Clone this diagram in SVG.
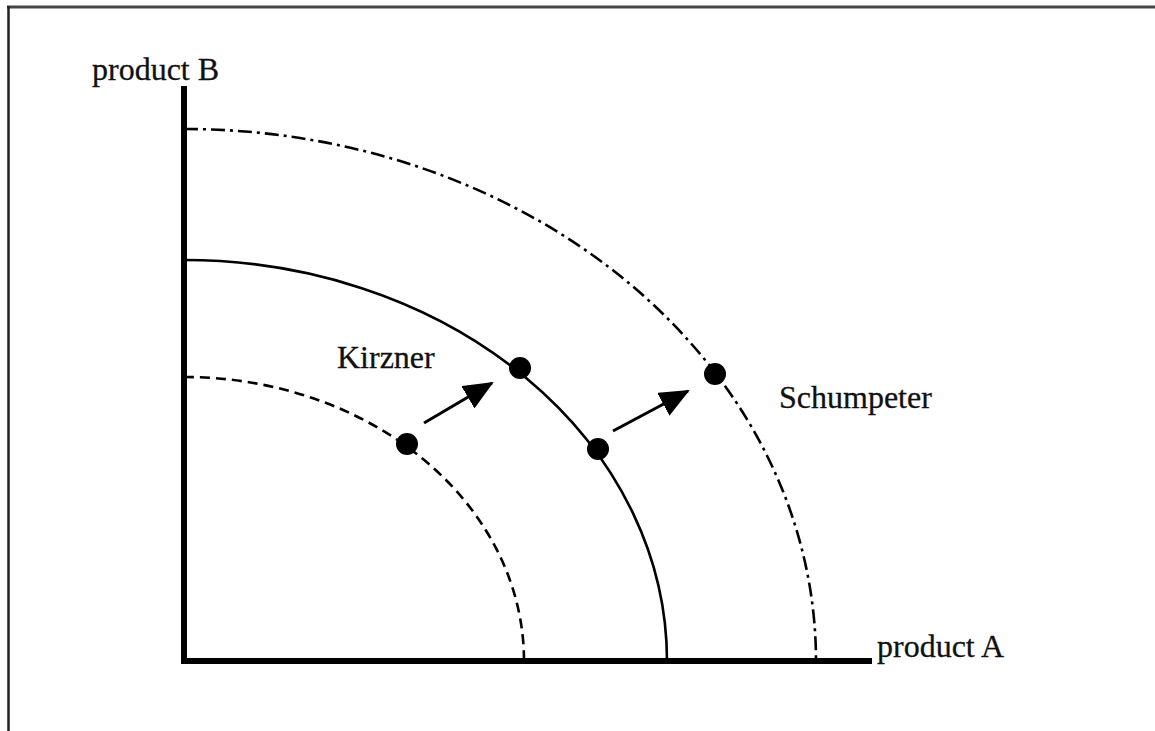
<svg xmlns="http://www.w3.org/2000/svg" width="1155" height="731" viewBox="0 0 1155 731">
<style>
.t{font-family:"Liberation Serif","Times New Roman",serif;font-size:32px;fill:#111;stroke:#111;stroke-width:0.3}
.c{fill:none;stroke:#000;stroke-width:2.6}
.dot{fill:#000}
.ar{stroke:#000;stroke-width:3;fill:none}
</style>
<defs>
<marker id="ah2" viewBox="0 0 30 26" refX="28" refY="13" markerWidth="30" markerHeight="26" markerUnits="userSpaceOnUse" orient="auto">
<path d="M0,0 L30,13 L0,26 z" fill="#000"/>
</marker>
</defs>
<rect width="1155" height="731" fill="#fff"/>
<g id="frame">
<line x1="7" y1="7" x2="1155" y2="7" stroke="#444" stroke-width="3"/>
<line x1="8.5" y1="6" x2="8.5" y2="731" stroke="#222" stroke-width="2.5"/>
</g>
<g id="axes">
<line x1="184" y1="86" x2="184" y2="664" stroke="#000" stroke-width="6"/>
<line x1="181" y1="661" x2="872" y2="661" stroke="#000" stroke-width="6"/>
</g>
<g id="curves">
<path id="curve-dashed" class="c" d="M184,377 A340,284 0 0 1 524,661" stroke-dasharray="10,6"/>
<path id="curve-solid" class="c" d="M184,260 A483,401 0 0 1 667,661"/>
<path id="curve-dashdot" class="c" d="M184,129 A632,532 0 0 1 816,661" stroke-dasharray="14,5,3,5"/>
</g>
<g id="points">
<circle class="dot" cx="407" cy="444" r="11"/>
<circle class="dot" cx="520" cy="368" r="11"/>
<circle class="dot" cx="598" cy="449" r="11"/>
<circle class="dot" cx="715" cy="374" r="11"/>
</g>
<g id="connectors">
<line class="ar" x1="424" y1="423" x2="492" y2="383" marker-end="url(#ah2)"/>
<line class="ar" x1="613" y1="431" x2="688" y2="391" marker-end="url(#ah2)"/>
</g>
<g id="labels">
<text class="t" x="92" y="80">product B</text>
<text class="t" x="877" y="657">product A</text>
<text class="t" x="337" y="368">Kirzner</text>
<text class="t" x="779" y="408">Schumpeter</text>
</g>
</svg>
